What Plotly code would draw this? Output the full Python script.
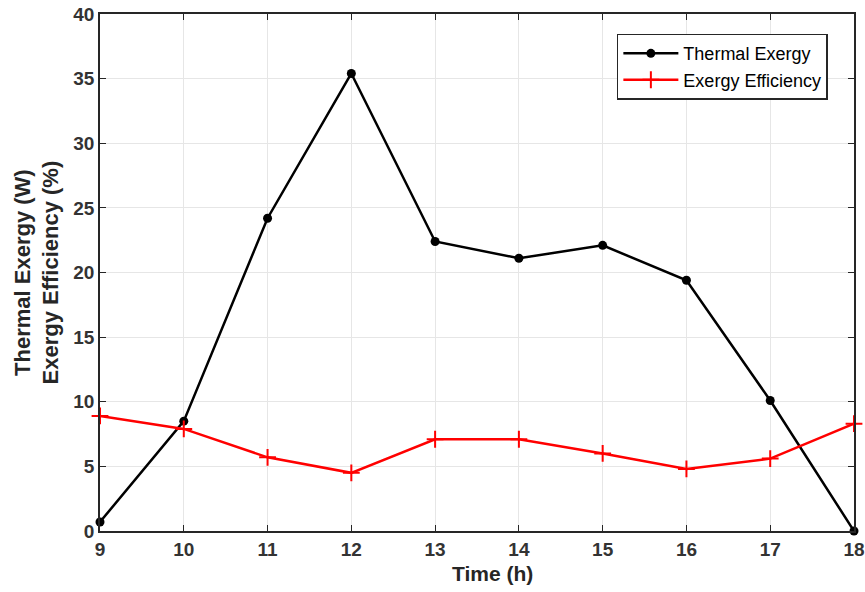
import plotly.graph_objects as go

hours = [9, 10, 11, 12, 13, 14, 15, 16, 17, 18]
thermal_exergy = [0.7, 8.5, 24.2, 35.4, 22.4, 21.1, 22.1, 19.4, 10.1, 0.0]
exergy_efficiency = [8.9, 7.9, 5.7, 4.5, 7.1, 7.1, 6.0, 4.8, 5.6, 8.3]
x_ticks = list(range(9, 19))
y_ticks = list(range(0, 41, 5))

FONT = "Arial, Liberation Sans"

fig = go.Figure()
fig.add_trace(go.Scatter(
    x=hours, y=thermal_exergy, mode="lines+markers", name="Thermal Exergy",
    line=dict(color="black", width=2.5),
    marker=dict(symbol="circle", size=9, color="black"),
    cliponaxis=False,
))
fig.add_trace(go.Scatter(
    x=hours, y=exergy_efficiency, mode="lines+markers", name="Exergy Efficiency",
    line=dict(color="#ff0000", width=2.5),
    marker=dict(symbol="cross-thin", size=12, line=dict(color="#ff0000", width=2)),
    cliponaxis=False,
))

axis_common = dict(
    showline=True, linecolor="#262626", linewidth=1.5, mirror="ticks",
    ticks="inside", ticklen=6, tickcolor="#262626",
    showgrid=True, gridcolor="#e6e6e6", gridwidth=1, zeroline=False,
    automargin=False, ticklabeloverflow="allow",
    tickfont=dict(family=FONT, size=19, color="#333333", weight="bold"),
)

fig.update_layout(
    width=865, height=592,
    margin=dict(l=100, r=11, t=14, b=61),
    plot_bgcolor="white", paper_bgcolor="white",
    xaxis=dict(range=[9, 18], tickvals=x_ticks, **axis_common),
    yaxis=dict(range=[0, 40], tickvals=y_ticks, **axis_common),
    legend=dict(x=0.6855, y=0.962, xanchor="left", yanchor="top",
                bgcolor="white", bordercolor="#262626", borderwidth=1.5,
                font=dict(family=FONT, size=18, color="black"),
                itemwidth=55, tracegroupgap=0),
    showlegend=True,
    annotations=[
        dict(text="<b>Thermal Exergy (W)<br>Exergy Efficiency (%)</b>",
             xref="paper", yref="paper", x=0, y=0.5, xanchor="center", yanchor="middle",
             xshift=-64, textangle=-90, showarrow=False,
             font=dict(family=FONT, size=22, color="#262626")),
        dict(text="<b>Time (h)</b>",
             xref="paper", yref="paper", x=0.52, y=0, xanchor="center", yanchor="middle",
             yshift=-42, showarrow=False,
             font=dict(family=FONT, size=21, color="#262626")),
    ],
)

fig.write_html("out.html", config={"displayModeBar": False},
               post_script="document.body.style.margin='0';")
